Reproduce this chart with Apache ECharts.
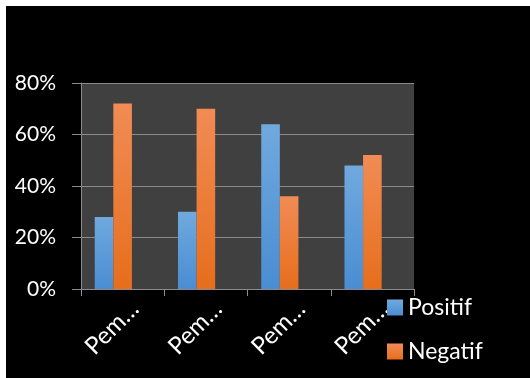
<!DOCTYPE html>
<html>
<head>
<meta charset="utf-8">
<script src="https://cdn.jsdelivr.net/npm/echarts@6/dist/echarts.min.js"></script>
<style>
  html, body { margin: 0; padding: 0; background: #ffffff; width: 530px; height: 378px; overflow: hidden; }
  #chart { position: absolute; left: 6px; top: 6px; width: 524px; height: 372px; background: #000000; }
</style>
</head>
<body>
<div id="chart"></div>
<script>
// Data
const categories = ['Pem…', 'Pem…', 'Pem…', 'Pem…'];
const positif = [0.28, 0.30, 0.64, 0.48];
const negatif = [0.72, 0.70, 0.36, 0.52];
const kosong = [null, null, null, null];
const yTicks = [0, 0.2, 0.4, 0.6, 0.8];

const chart = echarts.init(document.getElementById('chart'), null, { renderer: 'canvas' });
const FONT = 'Lato, "Open Sans", sans-serif';

const blueGrad = new echarts.graphic.LinearGradient(0, 0, 0, 1, [
  { offset: 0, color: '#70a9de' },
  { offset: 1, color: '#4a8dd2' }
]);
const orangeGrad = new echarts.graphic.LinearGradient(0, 0, 0, 1, [
  { offset: 0, color: '#f18c55' },
  { offset: 1, color: '#e66e1c' }
]);

chart.setOption({
  backgroundColor: '#000000',
  animation: false,
  textStyle: { fontFamily: FONT },
  grid: {
    left: 75, right: 116, top: 77, bottom: 89,
    show: true, backgroundColor: '#404040', borderWidth: 0
  },
  legend: {
    orient: 'vertical',
    left: 381, top: 290,
    padding: 0,
    data: ['Positif', 'Negatif'],
    icon: 'rect',
    itemWidth: 16, itemHeight: 16,
    itemGap: 21,
    textStyle: { color: '#ffffff', fontSize: 23, fontFamily: FONT }
  },
  xAxis: {
    type: 'category',
    data: categories,
    axisLine: { show: true, lineStyle: { color: '#8c8c8c', width: 1 } },
    axisTick: { show: true, length: 7, lineStyle: { color: '#8c8c8c' } },
    axisLabel: {
      interval: 0,
      rotate: 45,
      color: '#ffffff',
      fontSize: 24,
      fontFamily: FONT,
      margin: 4,
      align: 'right',
      verticalAlign: 'top',
      lineHeight: 34
    },
    splitLine: { show: false }
  },
  yAxis: {
    type: 'value',
    min: yTicks[0],
    max: yTicks[yTicks.length - 1],
    interval: 0.2,
    axisLine: { show: true, lineStyle: { color: '#8c8c8c', width: 1 } },
    axisTick: { show: true, length: 9, lineStyle: { color: '#8c8c8c' } },
    axisLabel: {
      color: '#ffffff',
      fontSize: 21,
      fontFamily: FONT,
      margin: 25,
      formatter: v => Math.round(v * 100) + '%'
    },
    splitLine: { show: true, lineStyle: { color: '#8a8a8a', width: 1 } }
  },
  series: [
    { name: 'Positif', type: 'bar', data: positif, barGap: '0%', barCategoryGap: '33%',
      itemStyle: { color: blueGrad } },
    { name: 'Negatif', type: 'bar', data: negatif, barGap: '0%', barCategoryGap: '33%',
      itemStyle: { color: orangeGrad } },
    { name: 'Kosong', type: 'bar', data: kosong, barGap: '0%', barCategoryGap: '33%',
      itemStyle: { color: '#a5a5a5' } }
  ]
});
</script>
</body>
</html>
